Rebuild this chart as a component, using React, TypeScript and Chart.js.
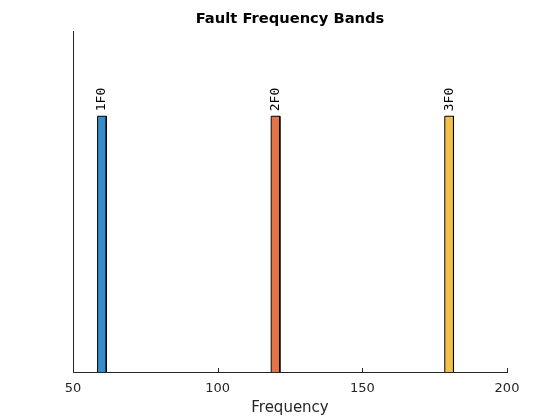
import React, { useEffect, useRef } from "react";
import { Chart, registerables } from "chart.js";

Chart.register(...registerables);

const bandLabels = ["1F0", "2F0", "3F0"];
const bandLow = [58.5, 118.5, 178.5];
const bandHigh = [61.5, 121.5, 181.5];
const bandHeight = [0.75, 0.75, 0.75];
const bandColors = ["#338ECA", "#E17547", "#F1C14D"];
const xTicks = [50, 100, 150, 200];

const titlePlugin = {
  id: "mtitle",
  afterDraw(chart: any) {
    const { ctx, chartArea } = chart;
    ctx.save();
    ctx.fillStyle = "#000";
    ctx.font = "bold 14.7px 'DejaVu Sans'";
    ctx.textAlign = "center";
    ctx.textBaseline = "middle";
    ctx.fillText("Fault Frequency Bands", (chartArea.left + chartArea.right) / 2, 19);
    ctx.restore();
  },
};

const labelPlugin = {
  id: "bandlabels",
  afterDatasetsDraw(chart: any) {
    const { ctx, scales } = chart;
    ctx.save();
    ctx.fillStyle = "#000";
    ctx.font = "13px 'DejaVu Sans Mono'";
    ctx.textAlign = "left";
    ctx.textBaseline = "middle";
    bandLabels.forEach((lab, i) => {
      const x = scales.x.getPixelForValue((bandLow[i] + bandHigh[i]) / 2);
      const y = scales.y.getPixelForValue(bandHeight[i]) - 5;
      ctx.save();
      ctx.translate(x, y);
      ctx.rotate(-Math.PI / 2);
      ctx.fillText(lab, 0, 0);
      ctx.restore();
    });
    ctx.restore();
  },
};

const tickPlugin = {
  id: "inticks",
  afterDraw(chart: any) {
    const { ctx, scales, chartArea } = chart;
    ctx.save();
    ctx.strokeStyle = "#262626";
    ctx.lineWidth = 1;
    xTicks.forEach((t) => {
      const x = Math.round(scales.x.getPixelForValue(t)) + 0.5;
      ctx.beginPath();
      ctx.moveTo(x, chartArea.bottom);
      ctx.lineTo(x, chartArea.bottom - 4);
      ctx.stroke();
    });
    ctx.restore();
  },
};

export default function App() {
  const ref = useRef<HTMLCanvasElement | null>(null);
  useEffect(() => {
    if (!ref.current) return;
    const datasets = bandLabels.map((lab, i) => ({
      label: lab,
      data: [
        { x: bandLow[i], y: 0 },
        { x: bandLow[i], y: bandHeight[i] },
        { x: bandHigh[i], y: bandHeight[i] },
        { x: bandHigh[i], y: 0 },
      ],
      showLine: true,
      fill: "origin",
      backgroundColor: bandColors[i],
      borderColor: "#000",
      borderWidth: 1,
      pointRadius: 0,
      tension: 0,
    }));
    const chart = new Chart(ref.current, {
      type: "scatter",
      data: { datasets } as any,
      options: {
        animation: false,
        responsive: false,
        devicePixelRatio: 1,
        layout: { padding: { top: 31, right: 53, left: 0, bottom: 0 } },
        plugins: { legend: { display: false }, tooltip: { enabled: false }, title: { display: false } },
        scales: {
          x: {
            type: "linear",
            min: 50,
            max: 200,
            afterFit: (s: any) => { s.height = 48; },
            afterBuildTicks: (s: any) => { s.ticks = xTicks.map((v) => ({ value: v })); },
            grid: { display: false },
            border: { display: true, color: "#262626", width: 1 },
            ticks: { color: "#262626", font: { family: "'DejaVu Sans'", size: 13 }, padding: 1, maxRotation: 0 },
            title: { display: true, text: "Frequency", color: "#262626", font: { family: "'DejaVu Sans'", size: 15 }, padding: { top: 0, bottom: 3 } },
          },
          y: {
            type: "linear",
            min: 0,
            max: 1,
            afterFit: (s: any) => { s.width = 73; },
            grid: { display: false },
            border: { display: true, color: "#262626", width: 1 },
            ticks: { display: false },
          },
        },
      } as any,
      plugins: [titlePlugin, labelPlugin, tickPlugin],
    });
    return () => chart.destroy();
  }, []);
  return (
    <div style={{ position: "fixed", left: 0, top: 0, width: 560, height: 420, background: "#fff" }}>
      <canvas ref={ref} width={560} height={420} />
    </div>
  );
}
